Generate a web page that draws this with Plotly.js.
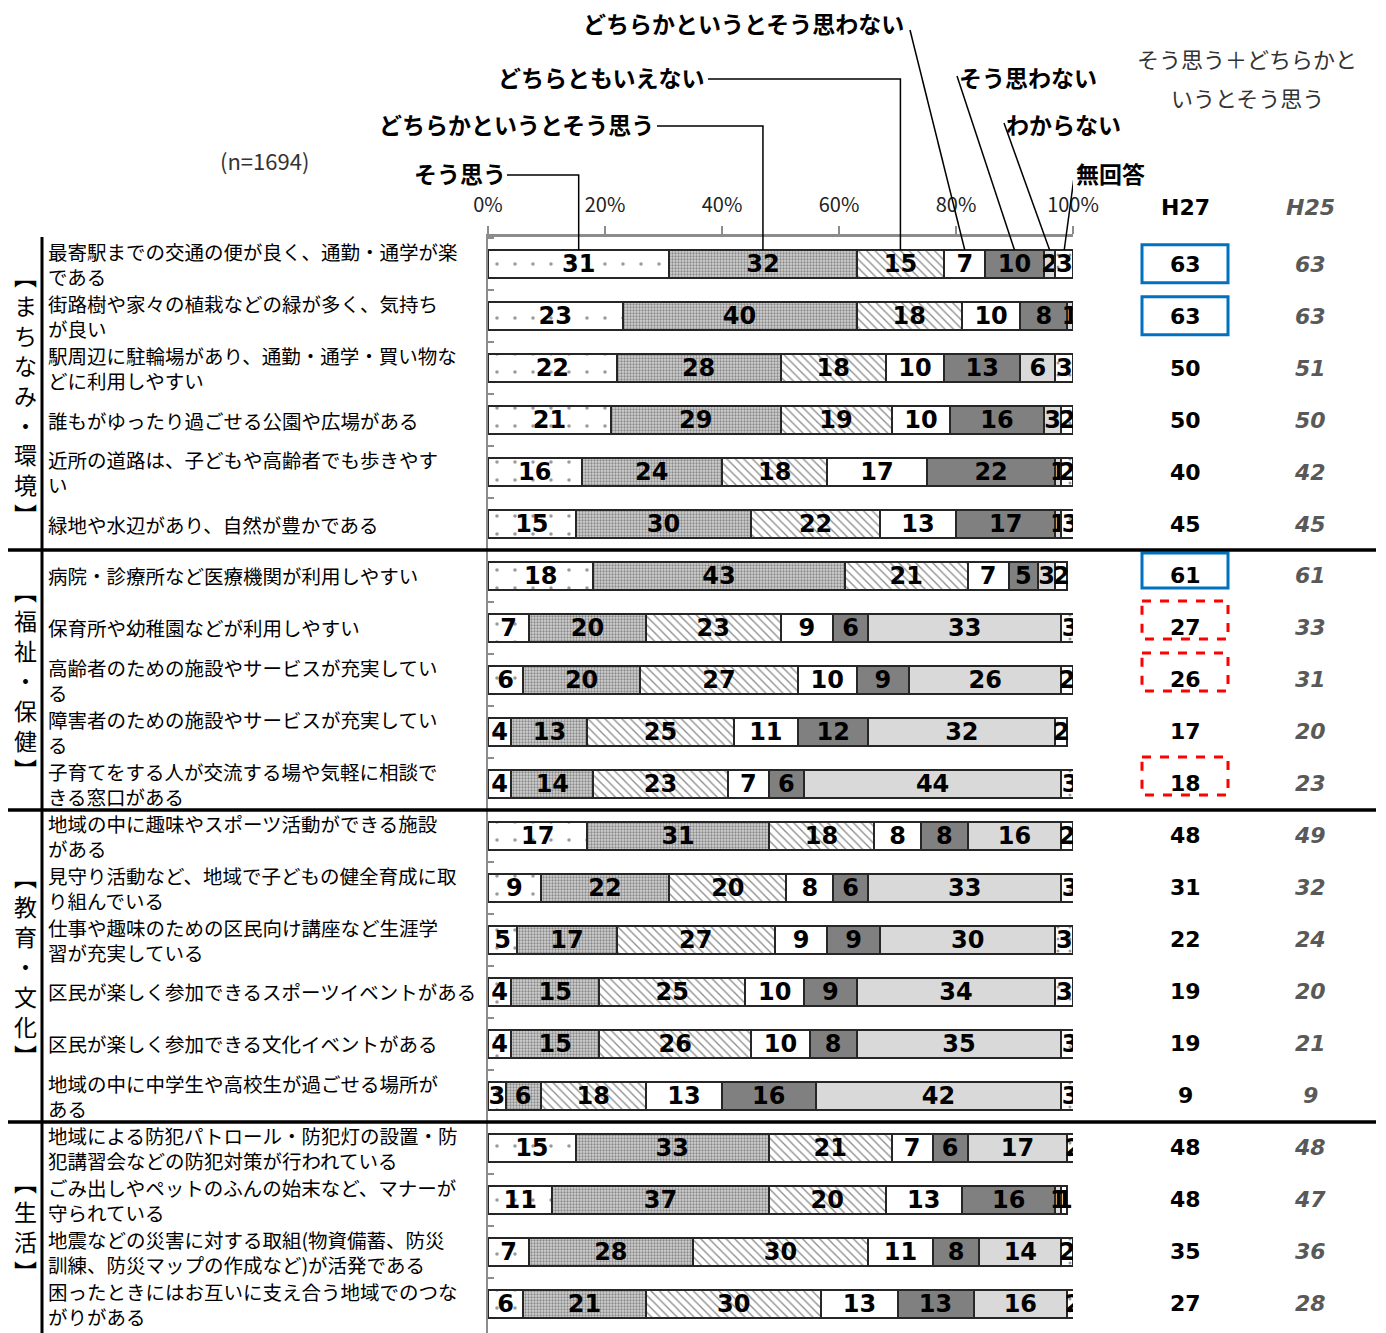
<!DOCTYPE html>
<html><head><meta charset="utf-8">
<script src="https://cdn.plot.ly/plotly-3.0.1.min.js"></script>
<style>body{margin:0;background:#fff}</style>
</head><body><div id="chart" style="width:1386px;height:1333px"></div>
<script>
// ---------- DATA ----------
const itemLabels = [
  "最寄駅までの交通の便が良く、通勤・通学が楽\nである",
  "街路樹や家々の植栽などの緑が多く、気持ち\nが良い",
  "駅周辺に駐輪場があり、通勤・通学・買い物な\nどに利用しやすい",
  "誰もがゆったり過ごせる公園や広場がある",
  "近所の道路は、子どもや高齢者でも歩きやす\nい",
  "緑地や水辺があり、自然が豊かである",
  "病院・診療所など医療機関が利用しやすい",
  "保育所や幼稚園などが利用しやすい",
  "高齢者のための施設やサービスが充実してい\nる",
  "障害者のための施設やサービスが充実してい\nる",
  "子育てをする人が交流する場や気軽に相談で\nきる窓口がある",
  "地域の中に趣味やスポーツ活動ができる施設\nがある",
  "見守り活動など、地域で子どもの健全育成に取\nり組んでいる",
  "仕事や趣味のための区民向け講座など生涯学\n習が充実している",
  "区民が楽しく参加できるスポーツイベントがある",
  "区民が楽しく参加できる文化イベントがある",
  "地域の中に中学生や高校生が過ごせる場所が\nある",
  "地域による防犯パトロール・防犯灯の設置・防\n犯講習会などの防犯対策が行われている",
  "ごみ出しやペットのふんの始末など、マナーが\n守られている",
  "地震などの災害に対する取組(物資備蓄、防災\n訓練、防災マップの作成など)が活発である",
  "困ったときにはお互いに支え合う地域でのつな\nがりがある"
];
const categories = itemLabels.map(s => s.replace("\n", ""));

const seriesNames = ["そう思う", "どちらかというとそう思う", "どちらともいえない",
  "どちらかというとそう思わない", "そう思わない", "わからない", "無回答"];

const souOmou      = [31,23,22,21,16,15,18, 7, 6, 4, 4,17, 9, 5, 4, 4, 3,15,11, 7, 6];
const dochiraSou   = [32,40,28,29,24,30,43,20,20,13,14,31,22,17,15,15, 6,33,37,28,21];
const dochiraMo    = [15,18,18,19,18,22,21,23,27,25,23,18,20,27,25,26,18,21,20,30,30];
const dochiraNo    = [ 7,10,10,10,17,13, 7, 9,10,11, 7, 8, 8, 9,10,10,13, 7,13,11,13];
const souOmowanai  = [10, 8,13,16,22,17, 5, 6, 9,12, 6, 8, 6, 9, 9, 8,16, 6,16, 8,13];
const wakaranai    = [ 2, 1, 6, 3, 1, 1, 3,33,26,32,44,16,33,30,34,35,42,17, 1,14,16];
const muKaito      = [ 3, 2, 3, 2, 2, 3, 2, 3, 2, 2, 3, 2, 3, 3, 3, 3, 3, 2, 1, 2, 2];
const seriesValues = [souOmou, dochiraSou, dochiraMo, dochiraNo, souOmowanai, wakaranai, muKaito];

const h27 = [63,63,50,50,40,45,61,27,26,17,18,48,31,22,19,19, 9,48,48,35,27];
const h25 = [63,63,51,50,42,45,61,33,31,20,23,49,32,24,20,21, 9,48,47,36,28];

const groupNames = ["まちなみ・環境", "福祉・保健", "教育・文化", "生活"];
const groupFirst = [0, 6, 11, 17];
const groupLast  = [5, 10, 16, 20];

const blueRows = [0, 1, 6];
const redRows  = [7, 8, 10];

const xTickVals  = [0, 20, 40, 60, 80, 100];
const xTickText  = ["0%", "20%", "40%", "60%", "80%", "100%"];

// ---------- STYLE ----------
const W = 1386, H = 1333, L = 488, R = 1073, T = 237, B = 1333;
const px2paperX = p => (p - L) / (R - L);
const px2paperY = p => (B - p) / (B - T);
const px2dataX  = p => (p - L) / (R - L) * 100;
const JP = "Noto Sans CJK JP";
const NUM = "DejaVu Sans";

const markerStyles = [
  {color: "#ffffff", pattern: {shape: ".", fgcolor: "#9a9a9a", bgcolor: "#ffffff", size: 18, solidity: 0.03, fillmode: "replace"}},
  {color: "#c8c8c8", pattern: {shape: ".", fgcolor: "#8a8a8a", bgcolor: "#d2d2d2", size: 3, solidity: 0.45, fillmode: "replace"}},
  {color: "#ffffff", pattern: {shape: "\\", fgcolor: "#8c8c8c", bgcolor: "#ffffff", size: 6, solidity: 0.22, fillmode: "replace"}},
  {color: "#ffffff"},
  {color: "#808080"},
  {color: "#d9d9d9"},
  {color: "#ffffff", pattern: {shape: ".", fgcolor: "#9a9a9a", bgcolor: "#ffffff", size: 12, solidity: 0.05, fillmode: "replace"}}
];

const traces = seriesNames.map((name, k) => ({
  type: "bar", orientation: "h", name: name,
  x: seriesValues[k], y: categories,
  text: seriesValues[k].map(String),
  marker: Object.assign({line: {color: "#262626", width: 2}}, markerStyles[k]),
  texttemplate: "%{text}", textposition: "inside", insidetextanchor: "middle",
  constraintext: "none", textangle: 0,
  textfont: {family: NUM, size: 24, weight: "bold", color: "#000"},
  hoverinfo: "skip"
}));

const annotations = [];
const shapes = [];
const ann = o => annotations.push(Object.assign({showarrow: false, borderpad: 0,
  xanchor: "center", yanchor: "middle"}, o));

// item labels
itemLabels.forEach((lab, i) => {
  ann({xref: "paper", yref: "y", x: px2paperX(47), y: i, xanchor: "left",
    align: "left", text: lab.replace("\n", "<br>"),
    font: {family: JP, size: 19.5, color: "#000"}});
});

// group labels (vertical)
groupNames.forEach((g, k) => {
  const chars = ["︻"].concat(Array.from(g)).concat(["︼"]);
  ann({xref: "paper", yref: "y", x: px2paperX(25), y: (groupFirst[k] + groupLast[k]) / 2,
    align: "center", text: chars.join("<br>"), font: {family: JP, size: 23, color: "#000"}});
});

// right-hand values
h27.forEach((v, i) => {
  ann({xref: "paper", yref: "y", x: px2paperX(1185), y: i,
    text: String(v), font: {family: NUM, size: 22, weight: "bold", color: "#000"}});
  ann({xref: "paper", yref: "y", x: px2paperX(1310), y: i,
    text: String(h25[i]), font: {family: NUM, size: 22, weight: "bold", style: "italic", color: "#595959"}});
});

// headers
ann({xref: "paper", yref: "paper", x: px2paperX(1185), y: px2paperY(208),
  text: "H27", font: {family: NUM, size: 22, weight: "bold", color: "#000"}});
ann({xref: "paper", yref: "paper", x: px2paperX(1310), y: px2paperY(208),
  text: "H25", font: {family: NUM, size: 22, weight: "bold", style: "italic", color: "#595959"}});
ann({xref: "paper", yref: "paper", x: px2paperX(1247), y: px2paperY(58),
  text: "そう思う＋どちらかと", font: {family: JP, size: 22, color: "#333"}});
ann({xref: "paper", yref: "paper", x: px2paperX(1247), y: px2paperY(97),
  text: "いうとそう思う", font: {family: JP, size: 22, color: "#333"}});
ann({xref: "paper", yref: "paper", x: px2paperX(264), y: px2paperY(160),
  text: "(n=1694)", font: {family: JP, size: 22, color: "#333"}});

// legend labels with leader lines, pointing at the first row's segments
const row0 = seriesValues.map(s => s[0]);
const mids = [];
let acc = 0;
row0.forEach(v => { mids.push(acc + v / 2); acc += v; });
const barTop = px2paperY(250);
const legendSpec = [
  {label: 0, tx: 507, ty: 173, anchor: "right", kind: "elbow", sx: 507, sy: 175},
  {label: 1, tx: 655, ty: 124, anchor: "right", kind: "elbow", sx: 657, sy: 126},
  {label: 2, tx: 706, ty: 77,  anchor: "right", kind: "elbow", sx: 708, sy: 79},
  {label: 3, tx: 905, ty: 23,  anchor: "right", kind: "diag",  sx: 910, sy: 30},
  {label: 4, tx: 958, ty: 77,  anchor: "left",  kind: "diag",  sx: 957, sy: 76},
  {label: 5, tx: 1005, ty: 124, anchor: "left", kind: "diag",  sx: 1004, sy: 123},
  {label: 6, tx: 1075, ty: 173, anchor: "left", kind: "diag",  sx: 1075, sy: 170}
];
legendSpec.forEach(s => {
  ann({xref: "paper", yref: "paper", x: px2paperX(s.tx), y: px2paperY(s.ty),
    xanchor: s.anchor, text: seriesNames[s.label],
    font: {family: JP, size: 23, weight: "bold", color: "#000"}});
  const m = mids[s.label];
  const path = s.kind === "elbow"
    ? `M ${px2dataX(s.sx)},${px2paperY(s.sy)} H ${m} V ${barTop}`
    : `M ${px2dataX(s.sx)},${px2paperY(s.sy)} L ${m},${barTop}`;
  shapes.push({type: "path", xref: "x", yref: "paper", path: path,
    line: {color: "#000", width: 1.5}, layer: "above"});
});

// boxes around H27 values
blueRows.forEach(i => {
  const up = i === 6 ? 0.44 : 0.37, dn = i === 6 ? 0.23 : 0.36;
  shapes.push({type: "rect", xref: "paper", yref: "y", x0: px2paperX(1142), x1: px2paperX(1228),
    y0: i - up, y1: i + dn, line: {color: "#0070c0", width: 3}});
});
redRows.forEach(i => {
  shapes.push({type: "rect", xref: "paper", yref: "y", x0: px2paperX(1142), x1: px2paperX(1228),
    y0: i - 0.52, y1: i + 0.21, line: {color: "#ff0000", width: 3, dash: "dash"}});
});

// group separators
groupLast.slice(0, 3).forEach(r => {
  shapes.push({type: "line", xref: "paper", yref: "y", x0: px2paperX(8), x1: px2paperX(1376),
    y0: r + 0.5, y1: r + 0.5, line: {color: "#000", width: 3.5}});
});
// vertical divider between group and item labels
shapes.push({type: "line", xref: "paper", yref: "paper", x0: px2paperX(42), x1: px2paperX(42),
  y0: 0, y1: 1, line: {color: "#000", width: 3}});

const layout = {
  width: W, height: H,
  margin: {l: L, r: W - R, t: T, b: 0, pad: 0},
  paper_bgcolor: "#fff", plot_bgcolor: "#fff",
  barmode: "stack", bargap: 0.46, showlegend: false,
  xaxis: {side: "top", range: [0, 100], tickvals: xTickVals, ticktext: xTickText,
    showline: true, linecolor: "#8c8c8c", linewidth: 3, ticks: "outside", ticklen: 8,
    tickwidth: 2, tickcolor: "#8c8c8c", showgrid: false, zeroline: false,
    ticklabelstandoff: 6, tickfont: {family: JP, size: 20, color: "#222"}},
  yaxis: {type: "category", range: [20.56, -0.52], showticklabels: false,
    showline: true, linecolor: "#8c8c8c", linewidth: 2, ticks: "inside", tickson: "boundaries",
    ticklen: 6, tickcolor: "#8c8c8c", tickwidth: 1.5, showgrid: false, zeroline: false},
  annotations: annotations, shapes: shapes
};

Plotly.newPlot("chart", traces, layout, {staticPlot: true, displayModeBar: false});
</script></body></html>
